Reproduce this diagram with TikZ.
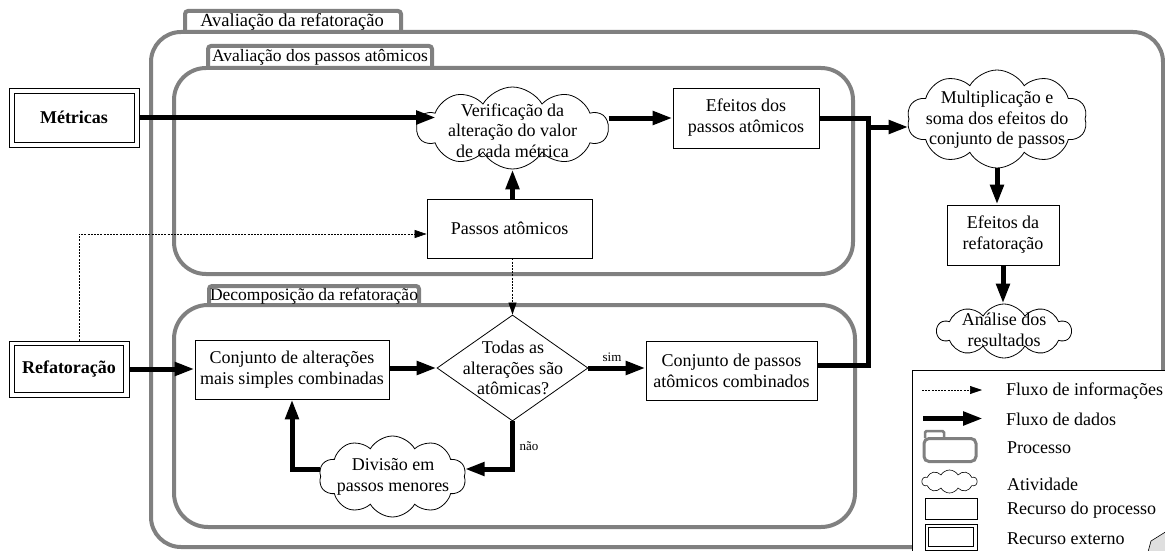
\documentclass[tikz,border=0pt]{standalone}
\usepackage{fontspec}
\setmainfont{Liberation Serif}
\usetikzlibrary{shapes.symbols,shapes.geometric,arrows.meta,calc}
\definecolor{procgray}{RGB}{128,128,128}
\tikzset{
  proc/.style={draw=procgray, line width=4pt, rounded corners=30pt},
  ptab/.style={draw=procgray, line width=4pt, fill=white, rounded corners=3pt},
  tablabel/.style={font=\fontsize{17.5}{20}\selectfont, inner sep=0pt},
  res/.style={draw, line width=0.8pt, fill=white, align=center, font=\fontsize{18}{21}\selectfont, inner sep=0pt},
  ext/.style={draw, line width=0.8pt, fill=white, font=\bfseries\fontsize{18}{21}\selectfont, inner sep=0pt},
  act/.style={cloud, cloud puffs=10, cloud puff arc=120, cloud ignores aspect, draw, line width=0.8pt, fill=white, inner sep=0pt},
  txt/.style={align=center, font=\fontsize{18}{20.5}\selectfont, inner sep=0pt},
  data/.style={line width=5pt, -{Triangle[length=20pt,width=13pt]}},
  info/.style={line width=0.6pt, dash pattern=on 2pt off 1.2pt, -{Triangle[length=12pt,width=8pt]}},
  lab/.style={font=\fontsize{13}{15}\selectfont, inner sep=0pt},
  legtext/.style={font=\fontsize{18}{21}\selectfont, anchor=west, inner sep=0pt},
}
\begin{document}
\begin{tikzpicture}[x=1pt,y=-1pt]
\useasboundingbox (0,0) rectangle (1165,551);
\clip (0,0) rectangle (1165,551);

% outer process
\draw[ptab] (185,32) -- (185,11) -- (401,11) -- (401,32);
\draw[proc] (151,32) rectangle (1163,547);
\node[tablabel, font=\fontsize{18.5}{20}\selectfont] (touter) at (292,21.5) {Avaliação da refatoração};

% inner process 1
\draw[ptab] (208,68) -- (208,46) -- (432,46) -- (432,68);
\draw[proc, rounded corners=32pt] (174,68) rectangle (853,274);
\node[tablabel] (tin1) at (320,57) {Avaliação dos passos atômicos};

% inner process 2
\draw[ptab] (209,305) -- (209,286) -- (419,286) -- (419,305);
\draw[proc, rounded corners=34pt] (174,305) rectangle (855,527);
\node[tablabel] (tin2) at (314,296) {Decomposição da refatoração};

% external resources
\node[ext, minimum width=130pt, minimum height=59pt] (metricas) at (74,117.5) {Métricas};
\draw[line width=0.8pt] ($(metricas.north west)+(6,6)$) rectangle ($(metricas.south east)+(-5,-5)$);
\node[ext, minimum width=120pt, minimum height=56pt] (refat) at (69,369) {Refatoração};
\draw[line width=0.8pt] ($(refat.north west)+(6,5)$) rectangle ($(refat.south east)+(-6,-5)$);

% process resources
\node[res, minimum width=165pt, minimum height=59pt] (passos) at (509.5,228.5) {Passos atômicos};
\node[res, minimum width=146pt, minimum height=60pt] (efeitos1) at (746,118) {Efeitos dos\\passos atômicos};
\node[res, minimum width=112pt, minimum height=60pt] (efeitos2) at (1003,235) {Efeitos da\\refatoração};
\node[res, minimum width=194pt, minimum height=59pt] (conj1) at (292,369.5) {Conjunto de alterações\\mais simples combinadas};
\node[res, minimum width=171pt, minimum height=59pt] (conj2) at (731.5,370.5) {Conjunto de passos\\atômicos combinados};

% activities
\node[act, minimum width=191pt, minimum height=82pt] (verif) at (512.5,128) {};
\node[txt] (veriftxt) at (512.5,130.5) {Verificação da\\alteração do valor\\de cada métrica};
\node[act, minimum width=180pt, minimum height=98pt] (mult) at (997,119) {};
\node[txt] (multtxt) at (997,120) {Multiplicação e\\soma dos efeitos do\\conjunto de passos};
\node[act, minimum width=134pt, minimum height=54pt] (analise) at (1004,331) {};
\node[txt] (analisetxt) at (1004,330) {Análise dos\\resultados};
\node[act, minimum width=147pt, minimum height=81pt] (divisao) at (392.5,476.5) {};
\node[txt] (divisaotxt) at (393,477) {Divisão em\\passos menores};

% decision
\node[draw, diamond, line width=0.8pt, minimum width=151pt, minimum height=106pt, inner sep=0pt] (dec) at (512.5,368) {};
\node[txt] (dectxt) at (513,368) {Todas as\\alterações são\\atômicas?};

% data flows
\coordinate (vin) at (436,117.5);
\draw[data] (metricas.east) -- (vin);
\draw[data] (passos.north -| verif.south) -- (verif.south);
\draw[data] (verif.east |- efeitos1.west) -- (efeitos1.west);
\coordinate (jtop) at (868,118);
\coordinate (jbot) at (868,365);
\coordinate (jarr) at (868,127);
\draw[line width=5pt] (efeitos1.east) -- (jtop) -- (jbot) -- (conj2.east |- jbot);
\draw[data] (jarr) -- (mult.west |- jarr);
\draw[data] (mult.south) -- (mult.south |- efeitos2.north);
\draw[data] (efeitos2.south) -- (efeitos2.south |- analise.north);
\draw[data] (refat.east) -- (refat.east -| conj1.west);
\draw[data] (conj1.east |- dec.west) -- (dec.west);
\draw[data] (dec.east) -- (dec.east -| conj2.west);
\node[lab] (sim) at (612,357) {sim};
\coordinate (nbend) at (513,469);
\draw[data] (dec.south) -- (dec.south |- nbend) -- (divisao.east |- nbend);
\node[lab] (nao) at (529,446) {não};
\draw[data] (divisao.west |- nbend) -- (conj1.south |- nbend) -- (conj1.south);

% information flows
\coordinate (dtop) at (79,234);
\draw[info] (refat.north -| dtop) -- (dtop) -- (passos.west |- dtop);
\draw[info] (passos.south -| dec.north) -- (dec.north);

% legend
\draw[line width=0.8pt, fill=white] (912,370) rectangle (1175,560);
\coordinate (lia) at (922,390);
\coordinate (lib) at (982,390);
\draw[info] (lia) -- (lib);
\node[legtext] (lt1) at (1006,391) {Fluxo de informações};
\coordinate (lda) at (923,418.5);
\coordinate (ldb) at (983,418.5);
\draw[data] (lda) -- (ldb);
\node[legtext] (lt2) at (1006,419) {Fluxo de dados};
\draw[draw=procgray, fill=white, line width=2.5pt, rounded corners=1.5pt] (925,438) -- (925,431) -- (944,431) -- (944,438);
\draw[draw=procgray, line width=3pt, rounded corners=5pt] (924,438.5) rectangle (976,461.5);
\node[legtext] (lt3) at (1007,448) {Processo};
\node[act, minimum width=55pt, minimum height=23pt, line width=0.6pt] (lcloud) at (949.5,481.5) {};
\node[legtext] (lt4) at (1007,484) {Atividade};
\node[res, minimum width=52pt, minimum height=21pt] (lres) at (951,508.5) {};
\node[legtext] (lt5) at (1007,510) {Recurso do processo};
\node[res, minimum width=52pt, minimum height=26pt] (lext) at (951,537) {};
\draw[line width=0.8pt] ($(lext.north west)+(4,4)$) rectangle ($(lext.south east)+(-4,-4)$);
\node[legtext] (lt6) at (1007,539) {Recurso externo};
\draw[fill=gray!25, line width=0.6pt] (1148,552) -- (1151,541) -- (1167,531) -- (1167,552);
\end{tikzpicture}
\end{document}
